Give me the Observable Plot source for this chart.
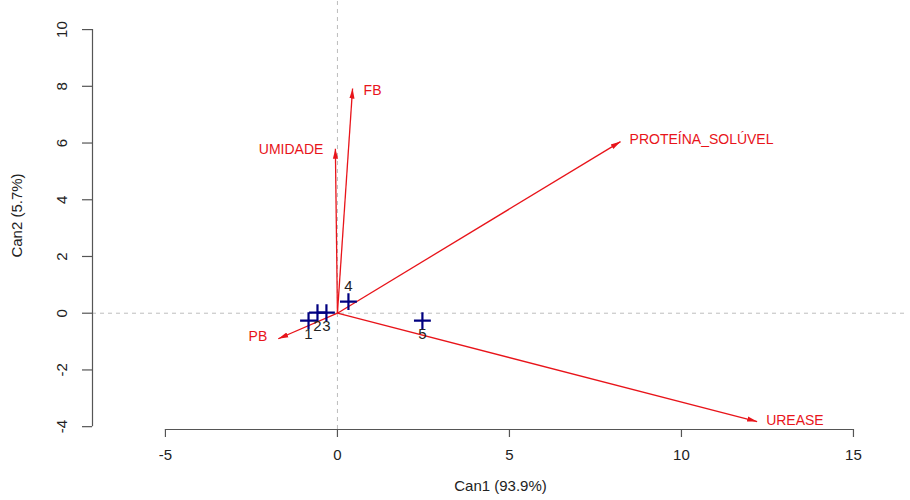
<!DOCTYPE html>
<html>
<head>
<meta charset="utf-8">
<script src="https://cdn.jsdelivr.net/npm/d3@7"></script>
<script src="https://cdn.jsdelivr.net/npm/@observablehq/plot@0.6"></script>
<style>
  html, body { margin: 0; padding: 0; background: #fff; }
  #chart svg { display: block; font-family: "Liberation Sans", Arial, sans-serif; }
</style>
</head>
<body>
<div id="chart"></div>
<script>
// Group scores on the first two canonical dimensions
const groups = ["1", "2", "3", "4", "5"];
const can1 = [-0.84, -0.58, -0.32, 0.32, 2.47];
const can2 = [-0.26, 0.02, 0.02, 0.41, -0.26];

// Structure vectors for each variable
const variables = ["FB", "UMIDADE", "PROTEÍNA_SOLÚVEL", "UREASE", "PB"];
const varCan1 = [0.44, -0.06, 8.23, 12.2, -1.72];
const varCan2 = [7.92, 5.8, 6.05, -3.82, -0.9];

// Axis ticks and titles
const xTicks = [-5, 0, 5, 10, 15];
const yTicks = [-4, -2, 0, 2, 4, 6, 8, 10];
const xTitle = "Can1 (93.9%)";
const yTitle = "Can2 (5.7%)";

const xDomain = [-7.12, 16.6];
const yDomain = [-4.1, 10.99];

const points = groups.map((g, i) => ({g, x: can1[i], y: can2[i]}));
const vectors = variables.map((v, i) => ({v, x: varCan1[i], y: varCan2[i]}));

const axisColor = "#555";
const red = "#e8141a";

// narrow filled arrowhead
function filledHead(color) {
  const m = d3.create("svg:marker")
    .attr("viewBox", "0 -5 10 10")
    .attr("refX", 10)
    .attr("refY", 0)
    .attr("markerUnits", "userSpaceOnUse")
    .attr("markerWidth", 10)
    .attr("markerHeight", 10)
    .attr("orient", "auto");
  m.append("path").attr("d", "M0,-2.6L10,0L0,2.6Z").attr("fill", color).attr("stroke", "none");
  return m.node();
}

// label placement for each variable: [textAnchor, dx, dy]
const labelPlacement = [
  ["FB", "start", 11, 2],
  ["UMIDADE", "end", -12, 1],
  ["PROTEÍNA_SOLÚVEL", "start", 9, -2],
  ["UREASE", "start", 9, -1],
  ["PB", "end", -11, -2]
];

const chart = Plot.plot({
  width: 910,
  height: 500,
  marginLeft: 92,
  marginRight: 2,
  marginTop: 1,
  marginBottom: 71,
  style: {fontFamily: "Liberation Sans, Arial, sans-serif", background: "#fff"},
  x: {domain: xDomain},
  y: {domain: yDomain},
  marks: [
    // reference lines through the origin
    Plot.ruleX([0], {stroke: "#bdbdbd", strokeDasharray: "4,4", strokeWidth: 1}),
    Plot.ruleY([0], {stroke: "#bdbdbd", strokeDasharray: "4,4", strokeWidth: 1}),

    // axis lines spanning first to last tick
    Plot.ruleY([yDomain[0]], {x1: xTicks[0], x2: xTicks[xTicks.length - 1], stroke: axisColor, strokeWidth: 1.2}),
    Plot.ruleX([xDomain[0]], {y1: yTicks[0], y2: yTicks[yTicks.length - 1], stroke: axisColor, strokeWidth: 1.2}),

    // tick marks
    Plot.axisX({ticks: xTicks, tickSize: 8, tickFormat: () => "", label: null, stroke: axisColor, strokeWidth: 1.2}),
    Plot.axisY({ticks: yTicks, tickSize: 10, tickFormat: () => "", label: null, stroke: axisColor, strokeWidth: 1.2}),

    // tick labels
    Plot.text(xTicks, {x: d => d, y: yDomain[0], text: d => String(d), dy: 26, fontSize: 15, fill: "#222"}),
    Plot.text(yTicks, {x: xDomain[0], y: d => d, text: d => String(d), dx: -30, rotate: -90, fontSize: 15, fill: "#222"}),

    // axis titles
    Plot.text([xTitle], {frameAnchor: "bottom", dy: 61, fontSize: 15, fill: "#222"}),
    Plot.text([yTitle], {frameAnchor: "left", textAnchor: "middle", dx: -75, rotate: -90, fontSize: 15, fill: "#222"}),

    // variable vectors
    Plot.link(vectors, {x1: 0, y1: 0, x2: "x", y2: "y", stroke: red, strokeWidth: 1.3, markerEnd: filledHead}),
    ...labelPlacement.map(([name, anchor, dx, dy]) =>
      Plot.text(vectors.filter(d => d.v === name), {x: "x", y: "y", text: "v", fill: red, fontSize: 14, textAnchor: anchor, dx, dy})
    ),

    // group scores
    Plot.dot(points, {x: "x", y: "y", symbol: "plus", r: 5.5, stroke: "#000080", strokeWidth: 2.2}),
    Plot.text(points.filter(d => d.g !== "4"), {x: "x", y: "y", text: "g", dy: 14, fontSize: 15, fill: "#222"}),
    Plot.text(points.filter(d => d.g === "4"), {x: "x", y: "y", text: "g", dy: -15, fontSize: 15, fill: "#222"})
  ]
});

document.getElementById("chart").appendChild(chart);
</script>
</body>
</html>
